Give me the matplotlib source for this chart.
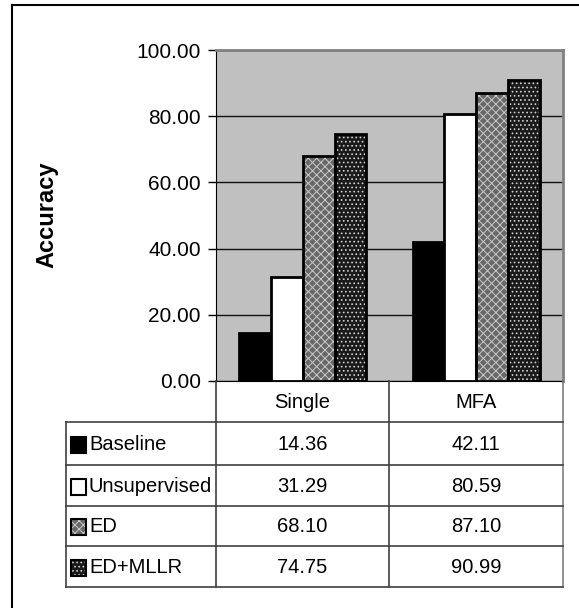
import matplotlib
matplotlib.use("Agg")
import matplotlib.pyplot as plt
import numpy as np

categories = ["Single", "MFA"]
series = ["Baseline", "Unsupervised", "ED", "ED+MLLR"]
baseline = [14.36, 42.11]
unsupervised = [31.29, 80.59]
ed = [68.10, 87.10]
ed_mllr = [74.75, 90.99]
values = [baseline, unsupervised, ed, ed_mllr]
yticks = [0, 20, 40, 60, 80, 100]

# face, hatch colour, hatch
styles = [
    ("#000000", None, None),
    ("#ffffff", None, None),
    ("#686868", "#c8c8c8", "xxxx"),
    ("#1a1a1a", "#d0d0d0", "...."),
]

plt.rcParams["font.family"] = ["Liberation Sans", "DejaVu Sans"]
plt.rcParams["hatch.linewidth"] = 0.7

W, H = 579, 608
fig = plt.figure(figsize=(W / 100, H / 100), dpi=100)

L, R, T, B = 216, 563, 50, 381
ax = fig.add_axes([L / W, 1 - B / H, (R - L) / W, (B - T) / H])
ax.set_facecolor("#c0c0c0")
ax.set_xlim(-0.5, len(categories) - 0.5)
ax.set_ylim(0, 100)
ax.set_yticks(yticks)
ax.set_yticklabels([f"{v:.2f}" for v in yticks], fontsize=15)
ax.tick_params(axis="y", length=6, width=1, pad=5, direction="out")
ax.set_xticks([])
ax.yaxis.grid(True, color="#101010", linewidth=1)
ax.set_axisbelow(True)
for side in ("top", "right"):
    ax.spines[side].set_color("#808080")
    ax.spines[side].set_linewidth(2)
ax.spines["left"].set_color("#000000")
ax.spines["bottom"].set_color("#000000")

x = np.arange(len(categories))
w = 0.183
for i, vals in enumerate(values):
    face, hcol, hatch = styles[i]
    pos = x + (i - 1.5) * w
    if hatch:
        ax.bar(pos, vals, w, color=face, edgecolor=hcol, hatch=hatch, linewidth=0, zorder=2)
        ax.bar(pos, vals, w, fill=False, edgecolor="black", linewidth=2, zorder=3)
    else:
        ax.bar(pos, vals, w, color=face, edgecolor="black", linewidth=2, zorder=2)

fig.text(47 / W, 1 - 215 / H, "Accuracy", rotation=90, ha="center", va="center",
         fontsize=17, fontweight="bold")

# overlay for table and outer frame, in pixel units
ov = fig.add_axes([0, 0, 1, 1], facecolor="none")
ov.set_xlim(0, W)
ov.set_ylim(H, 0)
ov.axis("off")

ov.plot([12, W], [5, 5], color="black", lw=1.5)
ov.plot([12, 12], [5, H], color="black", lw=1.5)

tab_left = 66
cols = [L, 389, R]
rows = [B, 422, 465, 506, 546, 587]
lc = "#404040"
for cx in cols:
    ov.plot([cx, cx], [B, rows[-1]], color=lc if cx != R else "#808080", lw=1.2)
ov.plot([tab_left, tab_left], [rows[1], rows[-1]], color=lc, lw=1.2)
for ry in rows[1:]:
    ov.plot([tab_left, R], [ry, ry], color=lc, lw=1.2)

for j, cat in enumerate(categories):
    cx = (cols[j] + cols[j + 1]) / 2
    ov.text(cx, (rows[0] + rows[1]) / 2 + 1, cat, ha="center", va="center", fontsize=14.5)

for i, name in enumerate(series):
    cy = (rows[i + 1] + rows[i + 2]) / 2 + 1
    face, hcol, hatch = styles[i]
    ov.add_patch(plt.Rectangle((71, cy - 8), 15, 16, facecolor=face,
                               edgecolor=hcol if hatch else "black",
                               hatch=hatch, lw=0 if hatch else 1.5))
    if hatch:
        ov.add_patch(plt.Rectangle((71, cy - 8), 15, 16, fill=False, edgecolor="black", lw=1.5))
    ov.text(89, cy, name, ha="left", va="center", fontsize=14.5)
    for j in range(len(categories)):
        cx = (cols[j] + cols[j + 1]) / 2
        ov.text(cx, cy, f"{values[i][j]:.2f}", ha="center", va="center", fontsize=14.5)

fig.savefig("out.png", dpi=100)
